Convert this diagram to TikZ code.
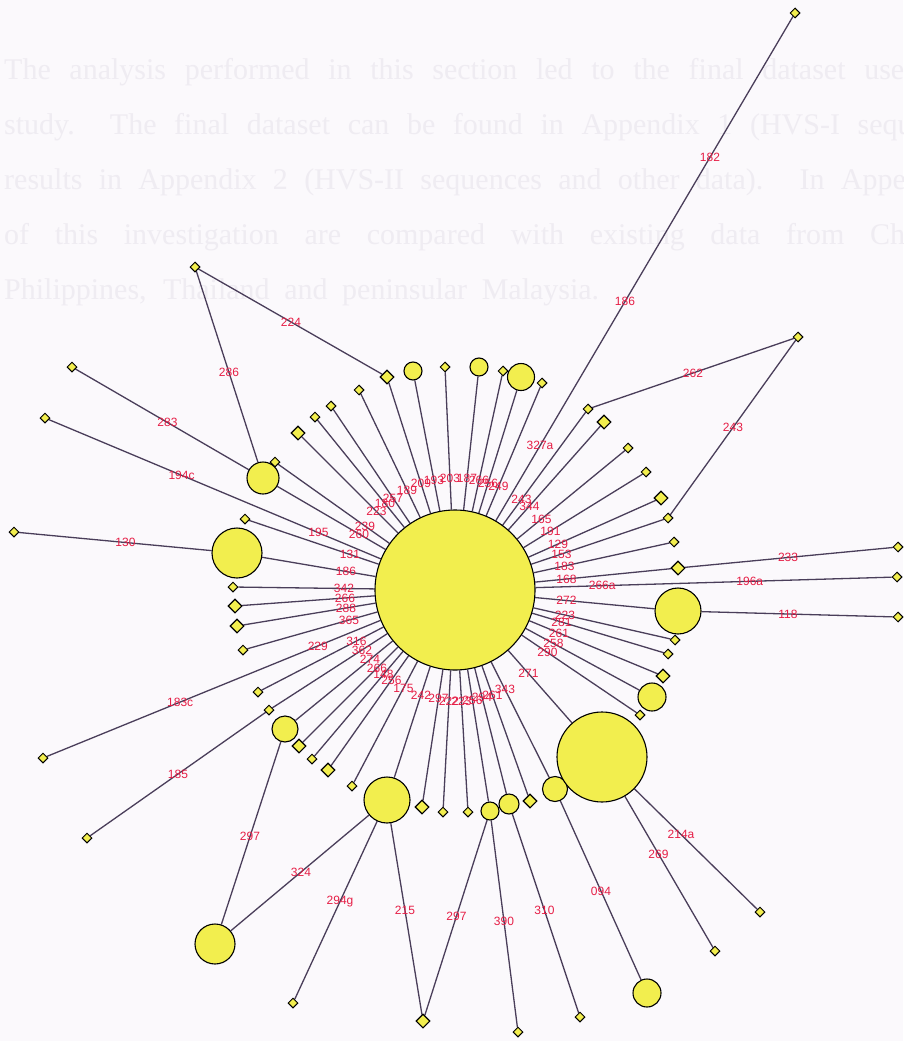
\documentclass[tikz,border=0pt]{standalone}
\usepackage{fontspec}
\setmainfont{Liberation Sans}
\newfontfamily\bgfont{Liberation Serif}
\usetikzlibrary{calc,shapes.geometric}
\definecolor{yel}{RGB}{242,238,78}
\definecolor{edgec}{RGB}{74,62,90}
\definecolor{labc}{RGB}{230,30,70}
\definecolor{bgc}{RGB}{251,249,252}
\definecolor{ghostc}{RGB}{239,236,242}
\pgfdeclarelayer{back}
\pgfdeclarelayer{edges}
\pgfsetlayers{back,edges,main}
\begin{document}
\begin{tikzpicture}[x=1pt,y=-1pt,
 edge/.style={draw=edgec, line width=1.3pt},
 sm/.style={diamond, draw=black, fill=yel, line width=1pt, minimum size=10pt, inner sep=0pt},
 md/.style={diamond, draw=black, fill=yel, line width=1.1pt, minimum size=14pt, inner sep=0pt},
 cir/.style={circle, draw=black, fill=yel, line width=1.1pt, minimum size=#1, inner sep=0pt},
 lab/.style={text=labc, font=\fontsize{12}{12}\selectfont, inner sep=0pt},
 ghost/.style={text=ghostc, font=\bgfont\fontsize{30}{30}\selectfont, anchor=base west, inner sep=0pt}]
\useasboundingbox (0,0) rectangle (903,1041);
\begin{pgfonlayer}{back}
\fill[bgc] (0,0) rectangle (903,1041);
\node[ghost] (t1) at (4,79) {\makebox[915pt][s]{The analysis performed in this section led to the final dataset used}};
\node[ghost] (t2) at (4,134) {\makebox[975pt][s]{study.\ \ The final dataset can be found in Appendix 1 (HVS-I sequences}};
\node[ghost] (t3) at (4,189) {\makebox[955pt][s]{results in Appendix 2 (HVS-II sequences and other data). In Appendix}};
\node[ghost] (t4) at (4,244) {\makebox[945pt][s]{of this investigation are compared with existing data from China,}};
\node[ghost] (t5) at (4,299) {\makebox[595pt][s]{Philippines, Thailand and peninsular Malaysia.}};
\end{pgfonlayer}

% hub
\node[cir=160pt] (h) at (455,590) {};
% ring nodes
\node[sm] (n1) at (897,577) {};
\node[md] (n2) at (678,568) {};
\node[sm] (n3) at (674,542) {};
\node[sm] (n4) at (668,518) {};
\node[md] (n5) at (661,498) {};
\node[sm] (n6) at (646,472) {};
\node[sm] (n7) at (628,448) {};
\node[md] (n8) at (604,422) {};
\node[sm] (n9) at (588,409) {};
\node[sm] (n10) at (795,13) {};
\node[sm] (n11) at (542,383) {};
\node[cir=27pt] (n12) at (521,377) {};
\node[sm] (n13) at (503,371) {};
\node[cir=18pt] (n14) at (479,367) {};
\node[sm] (n15) at (445,367) {};
\node[cir=18pt] (n16) at (413,371) {};
\node[md] (n17) at (387,377) {};
\node[sm] (n18) at (359,390) {};
\node[sm] (n19) at (331,406) {};
\node[sm] (n20) at (315,417) {};
\node[md] (n21) at (298,433) {};
\node[sm] (n22) at (275,462) {};
\node[cir=32pt] (n23) at (263,478) {};
\node[sm] (n24) at (45,418) {};
\node[sm] (n25) at (245,519) {};
\node[cir=50pt] (n26) at (237,553) {};
\node[sm] (n27) at (233,587) {};
\node[md] (n28) at (235,606) {};
\node[md] (n29) at (237,626) {};
\node[sm] (n30) at (243,650) {};
\node[sm] (n31) at (258,692) {};
\node[sm] (n32) at (43,758) {};
\node[sm] (n33) at (269,710) {};
\node[cir=26pt] (n34) at (285,729) {};
\node[md] (n35) at (299,746) {};
\node[sm] (n36) at (312,759) {};
\node[md] (n37) at (328,770) {};
\node[sm] (n38) at (352,786) {};
\node[cir=46pt] (n39) at (387,800) {};
\node[md] (n40) at (422,807) {};
\node[sm] (n41) at (443,812) {};
\node[sm] (n42) at (468,812) {};
\node[cir=18pt] (n43) at (490,811) {};
\node[cir=20pt] (n44) at (509,804) {};
\node[md] (n45) at (530,801) {};
\node[cir=25pt] (n46) at (555,789) {};
\node[cir=90pt] (n47) at (602,757) {};
\node[sm] (n48) at (640,715) {};
\node[cir=28pt] (n49) at (652,697) {};
\node[md] (n50) at (663,676) {};
\node[sm] (n51) at (668,654) {};
\node[sm] (n52) at (675,640) {};
\node[cir=46pt] (n53) at (678,611) {};
% outer nodes
\node[sm] (a1) at (195,267) {};
\node[sm] (a2) at (72,367) {};
\node[sm] (a3) at (14,532) {};
\node[sm] (a4) at (798,337) {};
\node[sm] (a5) at (898,547) {};
\node[sm] (a6) at (898,617) {};
\node[sm] (a7) at (87,838) {};
\node[cir=40pt] (a8) at (215,944) {};
\node[sm] (a9) at (293,1003) {};
\node[md] (a10) at (423,1021) {};
\node[sm] (a11) at (518,1032) {};
\node[sm] (a12) at (580,1017) {};
\node[cir=28pt] (a13) at (647,993) {};
\node[sm] (a14) at (715,951) {};
\node[sm] (a15) at (760,912) {};

% hub spokes with one label
\foreach \n/\l in {n2/168,n3/183,n4/153,n5/129,n6/191,n7/165,n8/344,n9/243,n11/249,n12/256,n13/266,n14/187,n15/203,n16/193,n17/209,n18/189,n19/257,n20/180,n21/223,n22/239,n23/260,n25/131,n26/186,n27/342,n28/266,n29/288,n30/365,n31/316,n33/362,n34/274,n35/266,n36/148,n37/256,n38/175,n39/242,n40/297,n41/222,n42/223,n43/256,n44/294,n45/261,n46/343,n47/271,n48/290,n49/258,n50/261,n51/281,n52/223,n53/272}{
  \begin{pgfonlayer}{edges}\draw[edge] (h) -- (\n);\end{pgfonlayer}
  \node[lab] at ($(h)!0.5!(\n)$) {\l};
}
% hub spokes with several labels
\begin{pgfonlayer}{edges}
\draw[edge] (h) -- (n1);
\draw[edge] (h) -- (n10);
\draw[edge] (h) -- (n24);
\draw[edge] (h) -- (n32);
\end{pgfonlayer}
\node[lab] at ($(h)!0.333!(n1)$) {266a};
\node[lab] at ($(h)!0.667!(n1)$) {196a};
\node[lab] at ($(h)!0.25!(n10)$) {327a};
\node[lab] at ($(h)!0.5!(n10)$) {186};
\node[lab] at ($(h)!0.75!(n10)$) {182};
\node[lab] at ($(h)!0.333!(n24)$) {195};
\node[lab] at ($(h)!0.667!(n24)$) {194c};
\node[lab] at ($(h)!0.333!(n32)$) {229};
\node[lab] at ($(h)!0.667!(n32)$) {183c};

% other connectors
\foreach \p/\q/\l in {a1/n23/286,a1/n17/224,a2/n23/283,a3/n26/130,a4/n9/262,a4/n4/243,n2/a5/233,n53/a6/118,n33/a7/185,n34/a8/297,n39/a8/324,n39/a9/294g,n39/a10/215,n43/a10/297,n43/a11/390,n44/a12/310,n46/a13/094,n47/a14/269,n47/a15/214a}{
  \begin{pgfonlayer}{edges}\draw[edge] (\p) -- (\q);\end{pgfonlayer}
  \node[lab] at ($(\p)!0.5!(\q)$) {\l};
}
\end{tikzpicture}
\end{document}
